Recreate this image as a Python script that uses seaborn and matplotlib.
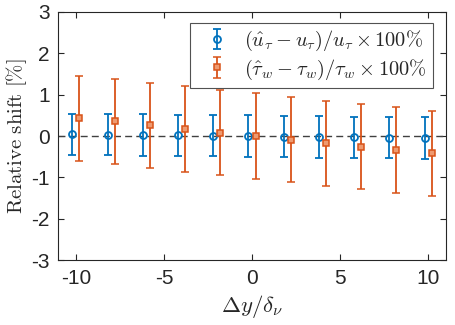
import numpy as np
import matplotlib
matplotlib.use("Agg")
import matplotlib.pyplot as plt
import seaborn as sns

# ----------------------------
# DATA
# ----------------------------
dy = [-10, -8, -6, -4, -2, 0, 2, 4, 6, 8, 10]
u_tau_shift = [0.04, 0.03, 0.025, 0.015, 0.008, 0.0, -0.015, -0.025, -0.03, -0.04, -0.05]
u_tau_err = [0.50, 0.50, 0.50, 0.50, 0.50, 0.50, 0.50, 0.50, 0.50, 0.50, 0.50]
tau_w_shift = [0.43, 0.35, 0.26, 0.17, 0.08, 0.0, -0.09, -0.18, -0.26, -0.34, -0.42]
tau_w_err = [1.03, 1.03, 1.03, 1.03, 1.03, 1.03, 1.03, 1.03, 1.03, 1.03, 1.03]

blue = "#0072BD"
orange = "#D95319"

# ----------------------------
# STYLE
# ----------------------------
sns.set_theme(style="ticks")
plt.rcParams["font.family"] = ["Liberation Sans", "DejaVu Sans"]
plt.rcParams["mathtext.fontset"] = "cm"
plt.rcParams["axes.unicode_minus"] = False

fig = plt.figure(figsize=(4.56, 3.25), dpi=100)
ax = fig.add_axes([58.3 / 456, 1 - 260.3 / 325, (445.7 - 58.3) / 456, (260.3 - 11.7) / 325])

x = np.array(dy, dtype=float)
ax.axhline(0, color="#404040", lw=1.0, ls=(0, (5, 3)), zorder=1)

ax.errorbar(x - 0.2, u_tau_shift, yerr=u_tau_err, fmt="o", color=blue,
            mfc="none", ms=5, mew=1.3, elinewidth=1.3, capsize=3.2, capthick=1.3,
            label=r"$(\hat{u}_\tau - u_\tau)/u_\tau \times 100\%$", zorder=3)
ax.errorbar(x + 0.2, tau_w_shift, yerr=tau_w_err, fmt="s", color=orange,
            mfc="#ee9a70", ms=4, mew=1.1, elinewidth=1.3, capsize=3.2, capthick=1.3,
            label=r"$(\hat{\tau}_w - \tau_w)/\tau_w \times 100\%$", zorder=3)

ax.set_xlim(-11, 11)
ax.set_ylim(-3, 3)
ax.set_xticks([-10, -5, 0, 5, 10])
ax.set_yticks([-3, -2, -1, 0, 1, 2, 3])

for s in ax.spines.values():
    s.set_color("#262626")
    s.set_linewidth(0.8)
ax.tick_params(direction="in", top=True, right=True, length=4, width=0.8,
               colors="#262626", labelsize=15, pad=6)

ax.set_xlabel(r"$\Delta y/\delta_\nu$", fontsize=16.5, color="#262626", labelpad=4)
ax.set_ylabel(r"$\mathrm{Relative\ shift}\ [\%]$", fontsize=15, color="#262626", labelpad=2)

leg = ax.legend(loc="upper right", bbox_to_anchor=(0.967, 0.9545), fontsize=14.7,
                frameon=True, fancybox=False, edgecolor="#262626", borderaxespad=0,
                handlelength=2.0, handletextpad=0.35, borderpad=0.3, labelspacing=0.2)
leg.get_frame().set_linewidth(0.8)

fig.savefig("out.png", dpi=100)
